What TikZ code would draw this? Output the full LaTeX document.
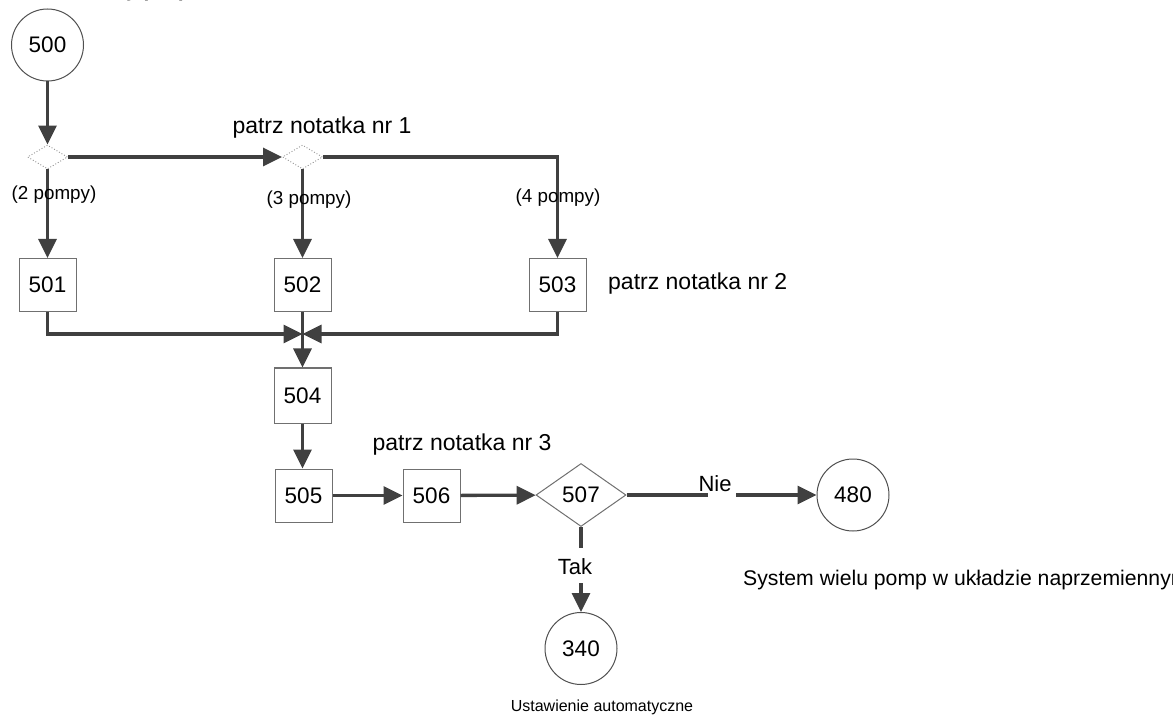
\documentclass[tikz,border=0pt]{standalone}
\usepackage{fontspec}
\setmainfont{Liberation Sans}
\usetikzlibrary{shapes.geometric,arrows.meta}
\definecolor{linec}{HTML}{404040}
\definecolor{boxc}{HTML}{707070}
\definecolor{circc}{HTML}{505050}
\definecolor{diac}{HTML}{909090}
\begin{document}
\begin{tikzpicture}[x=1pt,y=-1pt,
  conn/.style={draw=linec, line width=3.3pt, -{Triangle[length=19pt,width=18pt]}},
  plain/.style={draw=linec, line width=3.3pt},
  box/.style={draw=boxc, line width=1pt, fill=white, minimum width=57pt, minimum height=53pt, inner sep=0pt, font=\fontsize{22.5}{26}\selectfont},
  circ/.style={circle, draw=circc, line width=1pt, fill=white, minimum size=72pt, inner sep=0pt, font=\fontsize{22.5}{26}\selectfont},
  smalldia/.style={diamond, draw=diac, dotted, line width=0.9pt, fill=white, minimum width=40pt, minimum height=24pt, inner sep=0pt},
  bigdia/.style={diamond, draw=boxc, line width=1pt, fill=white, minimum width=90pt, minimum height=63pt, inner sep=0pt, font=\fontsize{22.5}{26}\selectfont},
  note/.style={inner sep=0pt, font=\fontsize{23}{27}\selectfont},
  pumps/.style={inner sep=0pt, font=\fontsize{18.8}{22}\selectfont},
  lbl/.style={inner sep=0pt, font=\fontsize{22}{26}\selectfont},
  caption/.style={inner sep=0pt, font=\fontsize{16}{19}\selectfont}
]
\useasboundingbox (0,0) rectangle (1173,719);

% cut-off title
\node[anchor=base west, inner sep=0pt, font=\bfseries\fontsize{21}{24}\selectfont] (title) at (126,-3.5) {y p\hspace{0.9em}(};

% nodes
\node[circ] (c500) at (47.5,45) {500};
\node[smalldia] (d1) at (47.5,157) {};
\node[smalldia] (d2) at (302.5,157) {};
\node[box] (b501) at (47.5,285) {501};
\node[box] (b502) at (302.5,285) {502};
\node[box] (b503) at (557.5,285) {503};
\coordinate (j) at (302.5,334);
\node[box, minimum height=55pt] (b504) at (302.5,395.5) {504};
\node[box] (b505) at (303.5,495.5) {505};
\node[box] (b506) at (431.5,495.5) {506};
\node[bigdia] (d507) at (581,495) {507};
\node[circ] (c480) at (853,495) {480};
\node[circ] (c340) at (581,648.5) {340};
\coordinate (nieA) at (708,495);
\coordinate (nieB) at (736,495);
\coordinate (takA) at (581,548);
\coordinate (takB) at (581,583);

% connectors
\draw[conn] (c500) -- (d1);
\draw[conn] (d1) -- (d2);
\draw[conn] (d1) -- (b501);
\draw[conn] (d2) -- (b502);
\draw[conn] (d2.east) -| (b503.north);
\draw[conn] (b501.south) |- (j);
\draw[conn] (b503.south) |- (j);
\draw[conn] (b502) -- (b504);
\draw[conn] (b504.south) -- (b504.south |- b505.north);
\draw[conn] (b505) -- (b506);
\draw[conn] (b506) -- (d507);
\draw[plain] (d507.east) -- (nieA);
\draw[conn] (nieB) -- (c480);
\draw[plain] (d507.south) -- (takA);
\draw[conn] (takB) -- (c340);

% labels
\node[note] (n1) at (322,128) {patrz notatka nr 1};
\node[note, anchor=west] (n2) at (608,284) {patrz notatka nr 2};
\node[note] (n3) at (462,445) {patrz notatka nr 3};
\node[pumps] (p2) at (54,195) {(2 pompy)};
\node[pumps] (p3) at (309,200) {(3 pompy)};
\node[pumps] (p4) at (558,198) {(4 pompy)};
\node[lbl] (nie) at (715,484) {Nie};
\node[lbl] (tak) at (575,567) {Tak};
\node[lbl, anchor=west, font=\fontsize{21.2}{25}\selectfont] (sys) at (743,580) {System wielu pomp w układzie naprzemiennym};
\node[caption] (ust) at (602,707) {Ustawienie automatyczne};
\end{tikzpicture}
\end{document}
